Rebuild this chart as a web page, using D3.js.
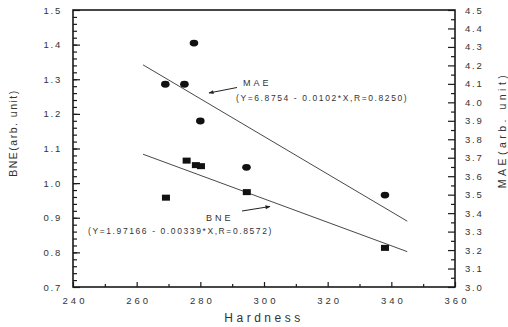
<!DOCTYPE html>
<html>
<head>
<meta charset="utf-8">
<script src="https://cdn.jsdelivr.net/npm/d3@7"></script>
<style>
  body { margin: 0; background: #fff; }
  text { font-family: "Liberation Sans", Arial, sans-serif; fill: #333; }
</style>
</head>
<body>
<svg width="508" height="327"></svg>
<script>
// MAE points (right axis), circles
let maeHardness = [269, 275, 278, 280, 294.5, 338];
let maeValues = [4.098, 4.098, 4.321, 3.899, 3.648, 3.498];

// BNE points (left axis), squares
let bneHardness = [269.2, 275.7, 278.6, 280.2, 294.6, 338];
let bneValues = [0.958, 1.065, 1.052, 1.049, 0.974, 0.813];

// linear fits as printed on the chart
let maeFit = [6.8754, -0.0102];
let bneFit = [1.97166, -0.00339];
let fitRange = [262, 345];

let xTicks = [240, 260, 280, 300, 320, 340, 360];
let leftTicks = [0.7, 0.8, 0.9, 1.0, 1.1, 1.2, 1.3, 1.4, 1.5];
let rightTicks = [3.0, 3.1, 3.2, 3.3, 3.4, 3.5, 3.6, 3.7, 3.8, 3.9, 4.0, 4.1, 4.2, 4.3, 4.4, 4.5];

let svg = d3.select("svg");
let margin = { left: 73, right: 53, top: 10, bottom: 40 };
let width = 508 - margin.left - margin.right;
let height = 327 - margin.top - margin.bottom;

let g = svg.append("g")
  .attr("transform", "translate(" + margin.left + "," + margin.top + ")");

let x = d3.scaleLinear().domain([240, 360]).range([0, width]);
let yL = d3.scaleLinear().domain([0.7, 1.5]).range([height, 0]);
let yR = d3.scaleLinear().domain([3.0, 4.5]).range([height, 0]);

let ink = "#1a1a1a";

// minor ticks first, then major ticks with labels
g.append("g")
  .attr("transform", "translate(0," + height + ")")
  .call(d3.axisBottom(x).tickValues(d3.range(250, 360, 20)).tickSize(-3).tickFormat(""));
g.append("g")
  .attr("class", "xaxis")
  .attr("transform", "translate(0," + height + ")")
  .call(d3.axisBottom(x).tickValues(xTicks).tickSize(-5).tickPadding(10).tickFormat(d3.format("d")));

g.append("g")
  .call(d3.axisLeft(yL).tickValues(d3.range(0.72, 1.5, 0.02)).tickSize(-4).tickFormat(""));
g.append("g")
  .call(d3.axisLeft(yL).tickValues(leftTicks).tickSize(-7).tickPadding(11).tickFormat(d3.format(".1f")));

g.append("g")
  .attr("transform", "translate(" + width + ",0)")
  .call(d3.axisRight(yR).tickValues(d3.range(3.05, 4.5, 0.1)).tickSize(-4).tickFormat(""));
g.append("g")
  .attr("transform", "translate(" + width + ",0)")
  .call(d3.axisRight(yR).tickValues(rightTicks).tickSize(-7).tickPadding(10).tickFormat(d3.format(".1f")));

g.selectAll(".domain").remove();
g.selectAll(".tick line").attr("stroke", ink).attr("stroke-width", 1.2);
g.selectAll(".tick text")
  .attr("font-size", "9.5px")
  .attr("letter-spacing", "1.8px")
  .attr("fill", "#3a3a3a");
g.selectAll(".xaxis .tick text")
  .attr("letter-spacing", "3px")
  .attr("dx", "1.5px");

// frame
g.append("rect")
  .attr("width", width)
  .attr("height", height)
  .attr("fill", "none")
  .attr("stroke", ink)
  .attr("stroke-width", 1.6);

// fit lines
function fitLine(c, yScale) {
  return fitRange.map(function(h) { return [x(h), yScale(c[0] + c[1] * h)]; });
}
g.append("path")
  .attr("d", d3.line()(fitLine(maeFit, yR)))
  .attr("stroke", "#333")
  .attr("stroke-width", 0.9)
  .attr("fill", "none");
g.append("path")
  .attr("d", d3.line()(fitLine(bneFit, yL)))
  .attr("stroke", "#333")
  .attr("stroke-width", 0.9)
  .attr("fill", "none");

// MAE circles
g.selectAll(".mae")
  .data(maeHardness)
  .enter()
  .append("ellipse")
  .attr("cx", function(d) { return x(d); })
  .attr("cy", function(d, i) { return yR(maeValues[i]); })
  .attr("rx", 4.3)
  .attr("ry", 3.4)
  .attr("fill", "#111");

// BNE squares
g.selectAll(".bne")
  .data(bneHardness)
  .enter()
  .append("rect")
  .attr("x", function(d) { return x(d) - 4; })
  .attr("y", function(d, i) { return yL(bneValues[i]) - 3; })
  .attr("width", 8)
  .attr("height", 6)
  .attr("fill", "#111");

// annotations
svg.append("defs").append("marker")
  .attr("id", "head")
  .attr("viewBox", "0 0 10 10")
  .attr("refX", 9)
  .attr("refY", 5)
  .attr("markerWidth", 7)
  .attr("markerHeight", 5)
  .attr("orient", "auto")
  .append("path")
  .attr("d", "M0,1 L10,5 L0,9 Z")
  .attr("fill", "#222");

svg.append("line")
  .attr("x1", 237).attr("y1", 87.5)
  .attr("x2", 209).attr("y2", 93)
  .attr("stroke", "#222").attr("stroke-width", 1)
  .attr("marker-end", "url(#head)");
svg.append("text")
  .attr("x", 243).attr("y", 86)
  .attr("font-size", "9px")
  .attr("letter-spacing", "3px")
  .text("MAE");
svg.append("text")
  .attr("x", 236).attr("y", 101)
  .attr("font-size", "8.5px")
  .attr("letter-spacing", "1.6px")
  .text("(Y=6.8754 - 0.0102*X,R=0.8250)");

svg.append("line")
  .attr("x1", 242).attr("y1", 211)
  .attr("x2", 270).attr("y2", 206.5)
  .attr("stroke", "#222").attr("stroke-width", 1)
  .attr("marker-end", "url(#head)");
svg.append("text")
  .attr("x", 206).attr("y", 221)
  .attr("font-size", "9px")
  .attr("letter-spacing", "3px")
  .text("BNE");
svg.append("text")
  .attr("x", 88).attr("y", 234)
  .attr("font-size", "8.5px")
  .attr("letter-spacing", "1.6px")
  .text("(Y=1.97166 - 0.00339*X,R=0.8572)");

// axis titles
svg.append("text")
  .attr("x", margin.left + width / 2)
  .attr("y", 322)
  .attr("text-anchor", "middle")
  .attr("font-size", "12px")
  .attr("letter-spacing", "3.5px")
  .text("Hardness");

svg.append("text")
  .attr("transform", "translate(17,133) rotate(-90)")
  .attr("text-anchor", "middle")
  .attr("font-size", "10.5px")
  .attr("letter-spacing", "1.5px")
  .text("BNE(arb. unit)");

svg.append("text")
  .attr("transform", "translate(506,130) rotate(-90)")
  .attr("text-anchor", "middle")
  .attr("font-size", "10.5px")
  .attr("letter-spacing", "3.5px")
  .text("MAE(arb. unit)");
</script>
</body>
</html>
